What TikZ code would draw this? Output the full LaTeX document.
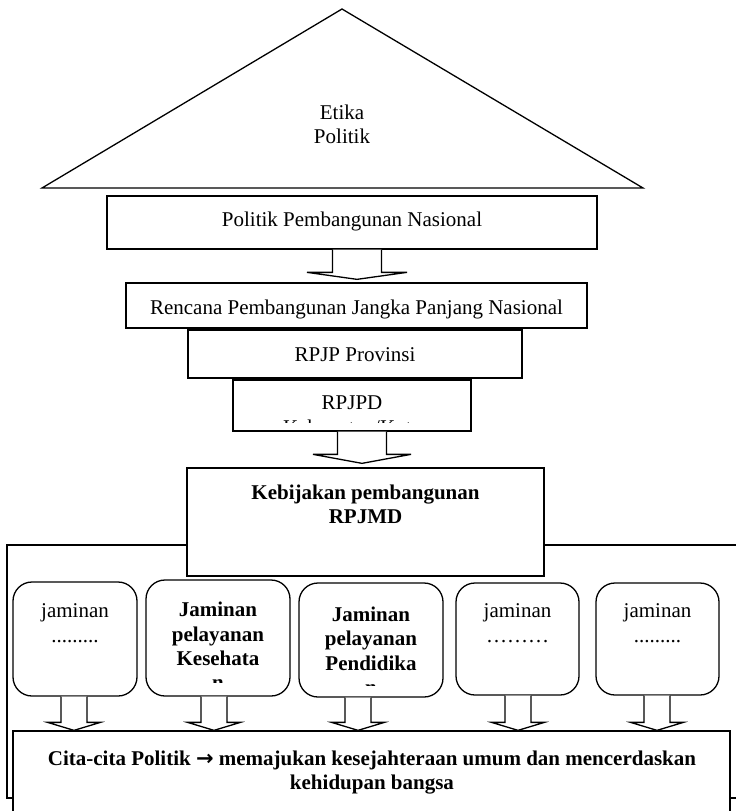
\documentclass[tikz,border=0pt]{standalone}
\usepackage{fontspec}
\setmainfont{Liberation Serif}
\newfontfamily\arrowfont{DejaVu Sans}
\usetikzlibrary{calc}
\newcommand{\blkarrow}[7]{%
  \draw[arrowline] let \p1=(#1 |- #2.south), \p2=(#1 |- #3.north) in
  (\x1-#4pt,\y1) -- (\x1-#4pt,\y2+#7pt) -- (\x1-#5pt,\y2+#7pt) -- (\x1,\y2+#6pt)
  -- (\x1+#5pt,\y2+#7pt) -- (\x1+#4pt,\y2+#7pt) -- (\x1+#4pt,\y1);}
\begin{document}
\begin{tikzpicture}[x=1pt,y=-1pt,line width=1.3pt,
  frame/.style={draw, fill=white, inner sep=0pt, line width=1.3pt},
  rbox/.style={frame, rounded corners=19pt},
  lbl/.style={font=\fontsize{21}{24.5}\selectfont, inner sep=0pt, align=center},
  blbl/.style={font=\fontsize{21}{24.5}\selectfont\bfseries, inner sep=0pt, align=center},
  arrowline/.style={draw, fill=white, line width=1.3pt}]
\clip (0,0) rectangle (736,811);
\fill[white] (0,0) rectangle (736,811);
% roof
\draw[fill=white] (42,188) -- (342,9) -- (643,188) -- cycle;
\node[lbl, anchor=base] (etika) at (342,143.5) {Etika\\Politik};
% upper boxes
\node[frame, minimum width=490pt, minimum height=53pt] (b1) at (352,222.5) {};
\node[frame, minimum width=461pt, minimum height=45pt] (b2) at (356.5,305.5) {};
\node[frame, minimum width=334pt, minimum height=48pt] (b3) at (355,354) {};
\node[frame, minimum width=238pt, minimum height=51pt] (b4) at (352,405.5) {};
\node[lbl, anchor=base] (t1) at (352,226.5) {Politik Pembangunan Nasional};
\node[lbl, anchor=base] (t2) at (356.5,314.5) {Rencana Pembangunan Jangka Panjang Nasional};
\node[lbl, anchor=base] (t3) at (355,361.5) {RPJP Provinsi};
\node[lbl, anchor=base] (t4) at (352,409.5) {RPJPD};
\begin{scope}
  \clip (233,380) rectangle (471,422);
  \node[lbl, anchor=base] (t4b) at (352,434.5) {Kabupaten/Kota};
\end{scope}
% big frame
\draw (760,545) -- (7,545) -- (7,798) -- (760,798);
% kebijakan
\node[frame, minimum width=357pt, minimum height=108pt] (keb) at (365.5,522) {};
\node[blbl, anchor=north] (tkeb) at (365.5,484) {Kebijakan pembangunan\\RPJMD};
% rounded boxes
\node[rbox, minimum width=124pt, minimum height=114pt] (ja) at (75,639) {};
\node[rbox, minimum width=144pt, minimum height=116pt] (jb) at (218,638) {};
\node[rbox, minimum width=144pt, minimum height=114pt] (jc) at (371,640) {};
\node[rbox, minimum width=123pt, minimum height=112pt] (jd) at (517.5,639) {};
\node[rbox, minimum width=123pt, minimum height=112pt] (je) at (657.5,639) {};
\node[lbl, anchor=north] (tja) at (75,603) {jaminan\\.........};
\node[blbl, anchor=north] (tjb) at (218,601.5) {Jaminan\\pelayanan\\Kesehata};
\node[blbl, anchor=north] (tjc) at (371,606) {Jaminan\\pelayanan\\Pendidika};
\node[lbl, anchor=north] (tjd) at (517.5,603) {jaminan\\………};
\node[lbl, anchor=north] (tje) at (657.5,603) {jaminan\\.........};
\begin{scope}
  \clip (150,660) rectangle (286,682);
  \node[blbl, anchor=base] (tjbn) at (218,689) {n};
\end{scope}
\begin{scope}
  \clip (303,665) rectangle (439,685);
  \node[blbl, anchor=base] (tjcn) at (371,694) {n};
\end{scope}
% cita box
\node[frame, minimum width=717pt, minimum height=99pt] (cita) at (371.5,780.5) {};
\node[blbl, anchor=north] (tcita) at (372,750) {Cita-cita Politik {\arrowfont\bfseries →} memajukan kesejahteraan umum dan mencerdaskan\\kehidupan bangsa};
% arrows
\coordinate (x1) at (357,0);
\coordinate (x2) at (362,0);
\coordinate (xa) at (74,0);
\coordinate (xb) at (214,0);
\coordinate (xc) at (358,0);
\coordinate (xd) at (518,0);
\coordinate (xe) at (657,0);
\blkarrow{x1}{b1}{b2}{24.5}{50}{3}{10}
\blkarrow{x2}{b4}{keb}{24.5}{49}{4}{13}
\blkarrow{xa}{ja}{cita}{13}{26.5}{0}{8}
\blkarrow{xb}{jb}{cita}{13}{26.5}{0}{8}
\blkarrow{xc}{jc}{cita}{13}{26.5}{0}{8}
\blkarrow{xd}{jd}{cita}{13}{26.5}{0}{8}
\blkarrow{xe}{je}{cita}{13}{26.5}{0}{8}
\end{tikzpicture}
\end{document}
